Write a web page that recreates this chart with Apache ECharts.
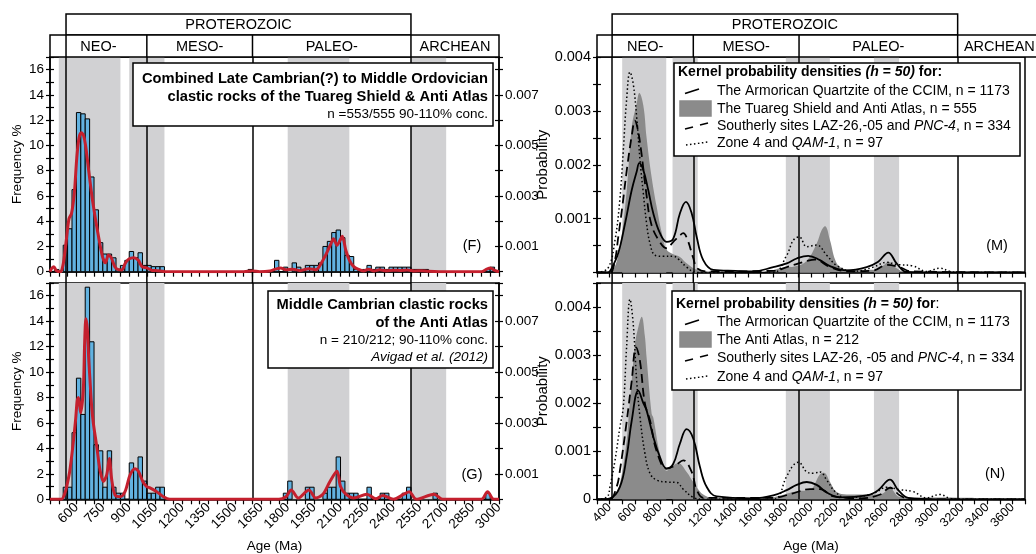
<!DOCTYPE html>
<html>
<head>
<meta charset="utf-8">
<script src="https://cdn.jsdelivr.net/npm/echarts@6/dist/echarts.min.js"></script>
<style>
  html, body { margin: 0; padding: 0; background: #fff; }
  #chart { width: 1036px; height: 554px; }
</style>
</head>
<body>
<div id="chart"></div>
<script>
// ---- time scale ----
var eonName = 'PROTEROZOIC';
var eraNames = ['NEO-', 'MESO-', 'PALEO-', 'ARCHEAN'];
var eraLeft = [541, 1000, 1600, 2500];      // boundaries on the histogram age axis
var eraRight = [420, 1065, 1905, 3165];     // same boundaries as drawn over the KDE panels
var greyBands = [[500, 850], [900, 1100], [1800, 2150], [2500, 2700]];

// ---- histograms, 25 Ma bins: [bin start, frequency %] ----
var BIN = 25;
var histF = [[475, 0.18], [525, 2.1], [550, 3.4], [575, 6.5], [600, 12.6], [625, 12.5], [650, 12.1],
  [675, 7.5], [700, 4.9], [725, 2.3], [750, 1.4], [775, 1.4], [800, 1.1], [825, 0.2], [850, 0.5],
  [875, 0.9], [900, 1.6], [925, 1.1], [950, 1.5], [975, 0.5], [1000, 0.5], [1025, 0.4], [1050, 0.4],
  [1075, 0.4], [1575, 0.18], [1725, 0.9], [1775, 0.36], [1825, 0.7], [1850, 0.36], [1875, 0.18],
  [1900, 0.5], [1925, 0.5], [1950, 0.5], [1975, 0.7], [2000, 2.0], [2025, 2.4], [2050, 3.1],
  [2075, 3.3], [2100, 2.7], [2125, 1.3], [2150, 1.2], [2175, 0.2], [2225, 0.18], [2250, 0.5],
  [2275, 0.18], [2300, 0.36], [2325, 0.36], [2350, 0.18], [2375, 0.36], [2400, 0.36], [2425, 0.36],
  [2450, 0.36], [2475, 0.36], [2500, 0.18], [2525, 0.18], [2550, 0.18], [2575, 0.18], [2925, 0.18],
  [2950, 0.36]];
var histG = [[525, 0.95], [550, 0.95], [575, 5.24], [600, 9.52], [625, 6.67], [650, 16.67], [675, 12.38],
  [700, 4.29], [725, 3.81], [750, 0.95], [775, 3.81], [800, 0.95], [825, 0.48], [850, 0.48],
  [900, 2.86], [925, 2.38], [950, 3.33], [975, 1.43], [1000, 0.48], [1025, 0.48], [1050, 0.95],
  [1075, 0.95], [1775, 0.48], [1800, 1.43], [1900, 0.95], [1925, 0.95], [2000, 0.48], [2025, 0.95],
  [2050, 0.95], [2075, 3.33], [2100, 1.43], [2125, 0.48], [2150, 0.48], [2175, 0.48], [2250, 0.95],
  [2325, 0.48], [2350, 0.48], [2450, 0.48], [2475, 0.95], [2625, 0.48], [2925, 0.48]];

// ---- probability density curves over the histograms: [age, probability] ----
var pdfF = [[450, 0], [462, 0.00015], [472, 0.0002], [485, 0.00005], [510, 0], [525, 0.0003], [535, 0.0008],
  [545, 0.0014], [558, 0.0021], [572, 0.0023], [588, 0.0031], [602, 0.0045], [615, 0.0053], [628, 0.0055],
  [640, 0.0054], [652, 0.005], [668, 0.0041], [688, 0.003], [708, 0.0021], [728, 0.0013], [748, 0.0006],
  [765, 0.00035], [782, 0.00066], [798, 0.00055], [818, 0.0002], [838, 0.00008], [858, 0.00007],
  [878, 0.00034], [898, 0.0005], [925, 0.00055], [952, 0.00045], [972, 0.0002], [1000, 0.00015],
  [1030, 0.00005], [1060, 0.00004], [1100, 0.00001], [1550, 0], [1600, 0.00003], [1640, 0],
  [1700, 0.00003], [1730, 0.0001], [1760, 0.00015], [1790, 0.00008], [1830, 0.0001], [1870, 0.00004],
  [1920, 0.00012], [1960, 0.00008], [1990, 0.00033], [2020, 0.00072], [2045, 0.0011], [2060, 0.0013],
  [2080, 0.00105], [2098, 0.00125], [2110, 0.0014], [2130, 0.00085], [2150, 0.00046], [2175, 0.0002],
  [2200, 0.0001], [2230, 0.00003], [2260, 0.0001], [2290, 0.00003], [2320, 0.00008], [2360, 0.00004],
  [2400, 0.00006], [2440, 0.00005], [2480, 0.00007], [2520, 0.00003], [2560, 0.00004], [2600, 0.00002],
  [2700, 0], [2900, 0], [2930, 0.0001], [2950, 0.00015], [2975, 0.00005], [3000, 0]];
var pdfG = [[450, 0], [515, 0], [535, 0.00025], [548, 0.0006], [562, 0.0011], [580, 0.0021], [595, 0.0031],
  [605, 0.0039], [612, 0.004], [624, 0.0034], [639, 0.0043], [647, 0.0062], [654, 0.0071], [662, 0.0067],
  [670, 0.0055], [677, 0.0047], [686, 0.0037], [696, 0.003], [715, 0.0021], [734, 0.00115], [753, 0.0007],
  [772, 0.00096], [787, 0.0016], [800, 0.0008], [819, 0.00017], [848, 0.0001], [876, 0.0003],
  [905, 0.00096], [933, 0.0012], [952, 0.0011], [977, 0.0007], [999, 0.0005], [1018, 0.00045],
  [1056, 0.0003], [1094, 0.0001], [1130, 0], [1750, 0], [1790, 0.0001], [1820, 0.00037], [1860, 0.00005],
  [1920, 0.00037], [1960, 0.00005], [2000, 0.0002], [2040, 0.0007], [2080, 0.0011], [2100, 0.0005],
  [2130, 0.0002], [2175, 0.00005], [2250, 0.0002], [2300, 0.00002], [2340, 0.00015], [2400, 0],
  [2460, 0.0002], [2490, 0.0003], [2530, 0], [2630, 0.0002], [2680, 0], [2900, 0], [2935, 0.0003],
  [2970, 0], [3000, 0]];

// ---- kernel density estimates, panel (M) ----
var armoricanM = [[300, 0], [387, 0], [417, 0.00008], [469, 0.00036], [522, 0.0009], [576, 0.00153],
  [615, 0.00187], [636, 0.00203], [668, 0.0019], [707, 0.00153], [747, 0.0011], [800, 0.00073],
  [853, 0.00057], [906, 0.00063], [959, 0.0011], [1007, 0.00131], [1052, 0.0011], [1092, 0.00066],
  [1144, 0.00023], [1224, 0.00005], [1400, 0.00003], [1540, 0.00002], [1700, 0.0001], [1807, 0.00017],
  [1886, 0.00026], [1978, 0.00031], [2071, 0.00023], [2151, 0.00012], [2283, 0.00004], [2442, 0.0001],
  [2534, 0.0002], [2614, 0.00037], [2680, 0.00017], [2760, 0.00001], [3000, 0], [3700, 0]];
var tuaregM = [[300, 0], [387, 0], [430, 0.00005], [482, 0.00048], [535, 0.0015], [576, 0.0027],
  [615, 0.00313], [636, 0.00333], [668, 0.0031], [694, 0.0025], [734, 0.00177], [774, 0.00122],
  [813, 0.00075], [853, 0.00042], [906, 0.00034], [959, 0.00029], [1012, 0.00017], [1092, 0.00005],
  [1200, 0.00001], [1640, 0], [1750, 0.00008], [1886, 0.00012], [1966, 0.00022], [2045, 0.00054],
  [2085, 0.00079], [2111, 0.00086], [2151, 0.0006], [2191, 0.00024], [2230, 0.0001], [2310, 0.00005],
  [2495, 0.00005], [2574, 0.00013], [2614, 0.0002], [2680, 0.00008], [2760, 0], [3700, 0]];
var southerlyM = [[300, 0], [403, 0], [440, 0.0002], [469, 0.00066], [500, 0.0012], [540, 0.00196],
  [580, 0.0026], [600, 0.00282], [620, 0.0027], [650, 0.00227], [690, 0.0015], [730, 0.00091],
  [790, 0.0006], [853, 0.00045], [906, 0.00057], [959, 0.00069], [985, 0.00073], [1020, 0.0006],
  [1062, 0.00029], [1100, 0.00007], [1200, 0.00002], [1700, 0.00003], [1807, 0.0001], [1978, 0.00022],
  [2030, 0.00024], [2151, 0.0001], [2300, 0.00002], [2500, 0.00004], [2600, 0.00014], [2700, 0.0001],
  [2800, 0.00002], [3700, 0]];
var zone4M = [[300, 0], [387, 0.00008], [443, 0.0006], [482, 0.00137], [509, 0.00227], [535, 0.0032],
  [562, 0.00372], [588, 0.0035], [615, 0.00289], [642, 0.00208], [668, 0.00147], [694, 0.00091],
  [721, 0.00054], [761, 0.00032], [827, 0.0003], [906, 0.0003], [946, 0.00025], [1012, 0.0001],
  [1092, 0], [1700, 0], [1807, 0.00032], [1860, 0.0006], [1907, 0.00066], [1966, 0.00048],
  [2045, 0.00051], [2125, 0.00032], [2204, 0.00013], [2336, 0.00002], [2495, 0.0001], [2601, 0.00019],
  [2680, 0.00015], [2812, 0.00012], [2918, 0.00002], [3024, 0.00008], [3104, 0.00002], [3200, 0], [3700, 0]];

// ---- kernel density estimates, panel (N) ----
var armoricanN = [[300, 0], [324, 0], [403, 0.00002], [482, 0.00026], [535, 0.00088], [576, 0.00164],
  [628, 0.00226], [668, 0.002], [694, 0.00185], [747, 0.0013], [800, 0.00088], [853, 0.00064],
  [906, 0.00074], [959, 0.00116], [1012, 0.00146], [1065, 0.00126], [1118, 0.00067], [1171, 0.00026],
  [1251, 0.00006], [1541, 0.00002], [1700, 0.00008], [1807, 0.00019], [1886, 0.0003], [1966, 0.00036],
  [2045, 0.0003], [2125, 0.00014], [2230, 0.00004], [2442, 0.00008], [2534, 0.00019], [2627, 0.00041],
  [2693, 0.00019], [2773, 0.00003], [3000, 0], [3700, 0]];
var antiAtlasN = [[300, 0], [400, 0], [430, 0.00005], [482, 0.00033], [535, 0.0012], [549, 0.00164],
  [576, 0.00247], [602, 0.00323], [630, 0.0036], [655, 0.0038], [680, 0.0034], [694, 0.00295],
  [734, 0.00178], [747, 0.0017], [800, 0.00095], [853, 0.0006], [906, 0.00071], [946, 0.00075],
  [1012, 0.00057], [1065, 0.00036], [1144, 0.0001], [1250, 0.00002], [1621, 0], [1754, 0.00008],
  [1886, 0.00017], [1992, 0.0002], [2071, 0.00052], [2103, 0.00055], [2151, 0.00036], [2204, 0.00015],
  [2283, 0.0001], [2442, 0.0001], [2548, 0.0001], [2627, 0.00022], [2707, 0.00005], [3263, 0.00003],
  [3400, 0], [3700, 0]];
var southerlyN = [[300, 0], [400, 0], [456, 0.00026], [482, 0.0006], [530, 0.0015], [576, 0.00247],
  [610, 0.00316], [640, 0.0029], [680, 0.002], [721, 0.00164], [774, 0.001], [853, 0.00064],
  [920, 0.0007], [985, 0.00081], [1052, 0.00057], [1092, 0.0002], [1150, 0.00003], [1700, 0.00003],
  [1850, 0.00012], [1992, 0.00021], [2071, 0.00021], [2180, 0.00006], [2400, 0.00002], [2550, 0.0001],
  [2627, 0.00024], [2707, 0.00008], [2800, 0], [3700, 0]];
var zone4N = [[300, 0], [380, 0.00005], [403, 0.00026], [443, 0.00081], [482, 0.0015], [509, 0.00192],
  [535, 0.00316], [562, 0.00416], [588, 0.00364], [615, 0.00247], [642, 0.0017], [681, 0.00095],
  [721, 0.00054], [774, 0.0004], [853, 0.00036], [933, 0.00035], [985, 0.00021], [1065, 0.00004],
  [1150, 0], [1700, 0], [1807, 0.00048], [1860, 0.00071], [1900, 0.00077], [1966, 0.00057],
  [2019, 0.00054], [2071, 0.00057], [2125, 0.0004], [2191, 0.00016], [2283, 0.00003], [2495, 0.00012],
  [2601, 0.00025], [2707, 0.0002], [2812, 0.00016], [2918, 0.00003], [3024, 0.0001], [3104, 0.00002],
  [3200, 0], [3700, 0]];

var FONT = '"Liberation Sans", Arial, Helvetica, sans-serif';
var BAND = '#d1d1d3';
var BAR = '#62b2e0';
var RED = '#c4202e';
var FILL = '#8b8b8b';

var chart = echarts.init(document.getElementById('chart'));

function grid(left, top, width, height) {
  return {left: left, top: top, width: width, height: height, show: true, borderColor: '#000',
    borderWidth: 1.5, backgroundColor: 'transparent', containLabel: false, outerBoundsMode: 'none'};
}

function xAge(gi, min, max, step, showLabels, labelStep, labelFrom, labelTo, fs) {
  return {
    type: 'value', gridIndex: gi, min: min, max: max, interval: step,
    axisLine: {show: true, onZero: false, lineStyle: {color: '#000', width: 1.5}},
    axisTick: {show: true, length: 5, lineStyle: {color: '#000', width: 1.2}},
    splitLine: {show: false},
    axisLabel: {
      show: showLabels, rotate: 45, margin: 6, color: '#000', fontFamily: FONT, fontSize: fs,
      showMinLabel: true, showMaxLabel: true,
      formatter: function (v) {
        return (v >= labelFrom && v <= labelTo && (v - labelFrom) % labelStep === 0) ? String(v) : '';
      }
    },
    name: showLabels ? 'Age (Ma)' : '', nameLocation: 'middle', nameGap: 40,
    nameTextStyle: {color: '#000', fontFamily: FONT, fontSize: 13.5}
  };
}

function yAxis(gi, pos, max, step, fmt, fs, name, gap, inside) {
  return {
    type: 'value', gridIndex: gi, position: pos, min: 0, max: max, interval: step,
    axisLine: {show: !inside, lineStyle: {color: '#000', width: 1.5}},
    axisTick: {show: true, inside: !!inside, length: 4, lineStyle: {color: '#000', width: 1.2}},
    splitLine: {show: false},
    axisLabel: {show: !inside, margin: 6, color: '#000', fontFamily: FONT, fontSize: fs, formatter: fmt},
    name: inside ? '' : name, nameLocation: 'middle', nameGap: gap,
    nameTextStyle: {color: '#000', fontFamily: FONT, fontSize: name === 'Probability' ? 15 : 13.5}
  };
}

function freqFmt(v) { return Math.round(v) % 2 === 0 ? String(Math.round(v)) : ''; }
function oddMilliFmt(v) {
  var m = Math.round(v * 1e4);
  return (m % 10 === 0 && (m / 10) % 2 === 1) ? (v).toFixed(3) : '';
}
function milliFmt(zeroLabel) {
  return function (v) {
    var m = Math.round(v * 1e4);
    if (m === 0) return zeroLabel ? '0' : '';
    return m % 10 === 0 ? v.toFixed(3) : '';
  };
}

var yAxes = [
  yAxis(0, 'left', 17, 1, freqFmt, 13.5, 'Frequency %', 26),
  yAxis(0, 'right', 0.0085, 0.001, oddMilliFmt, 13.5, '', 0),
  yAxis(1, 'left', 17, 1, freqFmt, 13.5, 'Frequency %', 26),
  yAxis(1, 'right', 0.0085, 0.001, oddMilliFmt, 13.5, '', 0),
  yAxis(2, 'left', 0.004, 0.0005, milliFmt(false), 14.5, 'Probability', 41),
  yAxis(3, 'left', 0.0045, 0.0005, milliFmt(true), 14.5, 'Probability', 41)
];
// second copies give the ticks that cross the axis line
var nBase = yAxes.length;
for (var i = 0; i < nBase; i++) {
  var a = yAxes[i];
  yAxes.push(yAxis(a.gridIndex, a.position, a.max, a.interval, null, 12, '', 0, true));
}

function backdrop(xi, yi, eras) {
  return [{
    type: 'line', xAxisIndex: xi, yAxisIndex: yi, data: [], z: 1, silent: true,
    markArea: {silent: true, itemStyle: {color: BAND},
      data: greyBands.map(function (b) { return [{xAxis: b[0]}, {xAxis: b[1]}]; })}
  }, {
    type: 'line', xAxisIndex: xi, yAxisIndex: yi, data: [], z: 4, silent: true,
    markLine: {silent: true, symbol: 'none', label: {show: false},
      lineStyle: {color: '#000', width: 1.5, type: 'solid'},
      data: eras.map(function (v) { return {xAxis: v}; })}
  }];
}

function histBars(xi, yi, data) {
  return {
    type: 'custom', xAxisIndex: xi, yAxisIndex: yi, data: data, z: 3, silent: true,
    encode: {x: 0, y: 1},
    renderItem: function (params, api) {
      var p0 = api.coord([api.value(0), api.value(1)]);
      var p1 = api.coord([api.value(0) + BIN, 0]);
      return {type: 'rect', shape: {x: p0[0], y: p0[1], width: p1[0] - p0[0], height: p1[1] - p0[1]},
        style: {fill: BAR, stroke: '#000', lineWidth: 1}};
    }
  };
}

function pdfLine(xi, yi, data) {
  return {type: 'line', xAxisIndex: xi, yAxisIndex: yi, data: data, smooth: 0.3, symbol: 'none', z: 5,
    silent: true, lineStyle: {color: RED, width: 3}};
}

function kde(xi, yi, data, dash, width, z) {
  return {type: 'line', xAxisIndex: xi, yAxisIndex: yi, data: data, smooth: 0.4,
    symbol: 'none', z: z, silent: true, lineStyle: {color: '#000', width: width, type: dash}};
}
function kdeFill(xi, yi, data) {
  return {type: 'line', xAxisIndex: xi, yAxisIndex: yi, data: data, smooth: 0.4,
    symbol: 'none', z: 3, silent: true, lineStyle: {width: 0, color: FILL},
    areaStyle: {color: FILL, opacity: 1}};
}

var series = [].concat(
  backdrop(0, 0, eraLeft), [histBars(0, 0, histF), pdfLine(0, 1, pdfF)],
  backdrop(1, 2, eraLeft), [histBars(1, 2, histG), pdfLine(1, 3, pdfG)],
  backdrop(2, 4, eraRight), [kdeFill(2, 4, tuaregM), kde(2, 4, armoricanM, 'solid', 1.8, 6),
    kde(2, 4, southerlyM, [9, 5], 1.8, 6), kde(2, 4, zone4M, [1.5, 2.5], 1.5, 6)],
  backdrop(3, 5, eraRight), [kdeFill(3, 5, antiAtlasN), kde(3, 5, armoricanN, 'solid', 1.8, 6),
    kde(3, 5, southerlyN, [9, 5], 1.8, 6), kde(3, 5, zone4N, [1.5, 2.5], 1.5, 6)]
);

chart.setOption({
  animation: false,
  backgroundColor: '#fff',
  textStyle: {fontFamily: FONT},
  grid: [grid(50, 57, 449, 214.7), grid(50, 283, 449, 216.3), grid(597, 57, 428, 215.5), grid(597, 283, 428, 216.3)],
  xAxis: [
    xAge(0, 450, 3000, 50, false, 150, 600, 3000, 13),
    xAge(1, 450, 3000, 50, true, 150, 600, 3000, 13.5),
    xAge(2, 300, 3700, 100, false, 200, 400, 3600, 12),
    xAge(3, 300, 3700, 100, true, 200, 400, 3600, 12.5)
  ],
  yAxis: yAxes,
  series: series
});

// ---- text, boxes and the time-scale header ----
var Z = 100;
function txt(x, y, text, opt) {
  opt = opt || {};
  return {type: 'text', z: Z, x: x, y: y, silent: true, style: {
    text: text, fill: '#000', font: (opt.weight || 'normal') + ' ' + (opt.size || 13) + 'px ' + FONT,
    fontSize: opt.size || 13, fontWeight: opt.weight || 'normal', fontFamily: FONT,
    align: opt.align || 'left', textAlign: opt.align || 'left',
    verticalAlign: 'middle', textVerticalAlign: 'middle', rich: opt.rich}};
}
function box(x, y, w, h, fill) {
  return {type: 'rect', z: Z, silent: true, shape: {x: x, y: y, width: w, height: h},
    style: {fill: fill || '#fff', stroke: '#000', lineWidth: 1.5}};
}
function seg(x1, y1, x2, y2, dash, w) {
  return {type: 'line', z: Z + 1, silent: true, shape: {x1: x1, y1: y1, x2: x2, y2: y2},
    style: {stroke: '#000', lineWidth: w || 1.5, lineDash: dash || null}};
}

function header(xi, eras, minV, rightPx) {
  var L = chart.convertToPixel({xAxisIndex: xi}, minV);
  var e = eras.map(function (v) { return chart.convertToPixel({xAxisIndex: xi}, v); });
  var R = rightPx;
  var els = [box(e[0], 14, e[3] - e[0], 21), box(L, 35, R - L, 22)];
  for (var k = 0; k < e.length; k++) {
    els.push(seg(e[k], 35, e[k], 57));
    // boundary lines carry on through the gap between the two panels
    els.push(seg(e[k], 272, e[k], 283));
  }
  els.push(txt((e[0] + e[3]) / 2, 25, eonName, {align: 'center', size: 14.5}));
  var cells = [L, e[1], e[2], e[3], R];
  for (var j = 0; j < eraNames.length; j++) {
    els.push(txt((cells[j] + cells[j + 1]) / 2, 46.5, eraNames[j], {align: 'center', size: 14.5}));
  }
  return els;
}

var LFS = 14;
var richLegend = {
  b: {fontWeight: 'bold', fontSize: LFS, fontFamily: FONT},
  bi: {fontWeight: 'bold', fontStyle: 'italic', fontSize: LFS, fontFamily: FONT},
  r: {fontSize: LFS, fontFamily: FONT},
  i: {fontStyle: 'italic', fontSize: LFS, fontFamily: FONT}
};
var richNote = {
  i: {fontStyle: 'italic', fontSize: 13.5, fontFamily: FONT}
};

function legend(x, y, w, h, rows, title, labels) {
  var tx = 717;
  var els = [box(x, y, w, h)];
  els.push(txt(x + 4, rows[0], title, {rich: richLegend}));
  // symbols
  els.push(seg(685, rows[1] + 2.5, 699, rows[1] - 2, null, 1.8));
  els.push(box(680, rows[2] - 8, 31, 15, FILL));
  els[els.length - 1].style.stroke = FILL;
  els.push(seg(685, rows[3] + 3, 693, rows[3] + 1, null, 1.8));
  els.push(seg(700, rows[3] - 1, 708, rows[3] - 3, null, 1.8));
  els.push(seg(686, rows[4] + 2, 708, rows[4] - 1, [1.5, 2.5], 1.5));
  for (var k = 0; k < labels.length; k++) {
    els.push(txt(tx, rows[k + 1], labels[k], {rich: richLegend}));
  }
  return els;
}

var gEls = [];
gEls = gEls.concat(header(0, eraLeft, 450, chart.convertToPixel({xAxisIndex: 0}, 3000)));
gEls = gEls.concat(header(2, eraRight, 300, chart.convertToPixel({xAxisIndex: 2}, 3700) + 16));

// annotation boxes on the histograms
gEls.push(box(133, 63, 360, 63));
gEls.push(txt(488, 79, 'Combined Late Cambrian(?) to Middle Ordovician', {align: 'right', weight: 'bold', size: 14.7}));
gEls.push(txt(488, 97, 'clastic rocks of the Tuareg Shield & Anti Atlas', {align: 'right', weight: 'bold', size: 14.7}));
gEls.push(txt(488, 114, 'n =553/555 90-110% conc.', {align: 'right', size: 13.5}));
gEls.push(box(268, 291, 225, 77));
gEls.push(txt(488, 305, 'Middle Cambrian clastic rocks', {align: 'right', weight: 'bold', size: 14.7}));
gEls.push(txt(488, 323, 'of the Anti Atlas', {align: 'right', weight: 'bold', size: 14.7}));
gEls.push(txt(488, 340, 'n = 210/212; 90-110% conc.', {align: 'right', size: 13.5}));
gEls.push(txt(488, 357, '{i|Avigad et al. (2012)}', {align: 'right', size: 13.5, rich: richNote}));

// KDE legends
gEls = gEls.concat(legend(674, 63, 346, 93, [72, 91, 109, 126, 143],
  '{b|Kernel probability densities }{bi|(h = 50)}{b| for:}',
  ['{r|The Armorican Quartzite of the CCIM, n = 1173}',
   '{r|The Tuareg Shield and Anti Atlas, n = 555}',
   '{r|Southerly sites LAZ-26,-05 and }{i|PNC-4}{r|, n = 334}',
   '{r|Zone 4 and }{i|QAM-1}{r|, n = 97}']));
gEls = gEls.concat(legend(672, 291, 349, 99, [304, 322, 340, 358, 377],
  '{b|Kernel probability densities }{bi|(h = 50)}{b| for}{r|:}',
  ['{r|The Armorican Quartzite of the CCIM, n = 1173}',
   '{r|The Anti Atlas, n = 212}',
   '{r|Southerly sites LAZ-26, -05 and }{i|PNC-4}{r|, n = 334}',
   '{r|Zone 4 and }{i|QAM-1}{r|, n = 97}']));

// panel letters
gEls.push(txt(472, 246, '(F)', {align: 'center', size: 14.5}));
gEls.push(txt(472, 475, '(G)', {align: 'center', size: 14.5}));
gEls.push(txt(997, 246, '(M)', {align: 'center', size: 14.5}));
gEls.push(txt(995, 474, '(N)', {align: 'center', size: 14.5}));

chart.setOption({graphic: {elements: gEls}});
</script>
</body>
</html>
